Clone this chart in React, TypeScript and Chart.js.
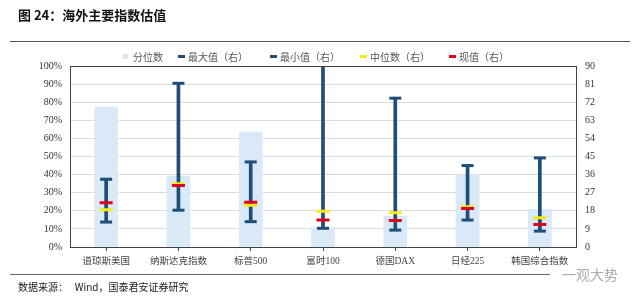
import React, { useEffect, useRef } from "react";
import { Chart, registerables } from "chart.js";
Chart.register(...registerables);

const categories = ["道琼斯美国", "纳斯达克指数", "标普500", "富时100", "德国DAX", "日经225", "韩国综合指数"];
const percentile = [77.3, 39.2, 63.5, 10.7, 17.1, 39.8, 20.8];
const maxVals = [33.7, 81.4, 42.3, 95, 74.0, 40.5, 44.3];
const minVals = [12.4, 18.3, 12.6, 9.3, 8.4, 13.4, 7.9];
const medianVals = [18.5, 31.4, 20.8, 17.8, 17.0, 20.0, 14.6];
const currentVals = [22.0, 30.6, 22.3, 13.4, 13.2, 19.2, 11.2];

const BLUE_LIGHT = "#d9e9f8";
const BLUE_DARK = "#1f4e79";
const YELLOW = "#f2ea1c";
const RED = "#e2001a";
const FONT = "'Liberation Serif', 'Noto Sans CJK SC', serif";

const borderPlugin = {
  id: "plotBorder",
  afterDraw(chart: any) {
    const { ctx, chartArea } = chart;
    ctx.save();
    ctx.strokeStyle = "#404040";
    ctx.lineWidth = 1;
    ctx.strokeRect(Math.round(chartArea.left) + 0.5, Math.round(chartArea.top) + 0.5,
      Math.round(chartArea.right - chartArea.left), Math.round(chartArea.bottom - chartArea.top));
    ctx.restore();
  },
};

function ChartView() {
  const ref = useRef<HTMLCanvasElement | null>(null);
  useEffect(() => {
    if (!ref.current) return;
    const pointDs = (label: string, data: number[], color: string, r: number) => ({
      type: "line" as const,
      label,
      data,
      yAxisID: "y1",
      showLine: false,
      pointStyle: "line",
      pointRadius: r,
      pointBorderWidth: 3,
      pointBorderColor: color,
      pointBackgroundColor: color,
      borderColor: color,
      order: 0,
    });
    const chart = new Chart(ref.current, {
      type: "bar",
      data: {
        labels: categories,
        datasets: [
          pointDs("现值（右）", currentVals, RED, 6.5),
          pointDs("中位数（右）", medianVals, YELLOW, 6.5),
          pointDs("最大值（右）", maxVals, BLUE_DARK, 6),
          pointDs("最小值（右）", minVals, BLUE_DARK, 6),
          {
            type: "bar",
            label: "range",
            data: minVals.map((m, i) => [m, maxVals[i]]),
            yAxisID: "y1",
            backgroundColor: BLUE_DARK,
            barThickness: 3,
            grouped: false,
            order: 1,
          } as any,
          {
            type: "bar",
            label: "分位数",
            data: percentile,
            yAxisID: "y",
            backgroundColor: BLUE_LIGHT,
            barThickness: 23,
            grouped: false,
            order: 2,
          },
        ],
      },
      options: {
        responsive: false,
        animation: false,
        layout: { padding: { top: 66, left: 0, right: 0, bottom: 0 } },
        plugins: { legend: { display: false }, tooltip: { enabled: false } },
        scales: {
          x: {
            offset: true,
            grid: { display: true, drawOnChartArea: false, offset: false, tickLength: 4, color: "#404040" },
            border: { color: "#404040" },
            ticks: { font: { family: FONT, size: 9.5 }, color: "#444", padding: 5, maxRotation: 0, autoSkip: false },
            afterFit(s: any) { s.height = 58; },
          },
          y: {
            position: "left",
            min: 0,
            max: 100,
            ticks: { stepSize: 10, callback: (v: any) => v + "%", font: { family: FONT, size: 10 }, color: "#333", padding: 8 },
            grid: { color: "#dcdcdc", drawTicks: false },
            border: { color: "#404040" },
            afterFit(s: any) { s.width = 70; },
          },
          y1: {
            position: "right",
            min: 0,
            max: 90,
            ticks: { stepSize: 9, font: { family: FONT, size: 10 }, color: "#333", padding: 9 },
            grid: { drawOnChartArea: false, drawTicks: false },
            border: { color: "#404040" },
            afterFit(s: any) { s.width = 64; },
          },
        },
      },
      plugins: [borderPlugin],
    } as any);
    return () => chart.destroy();
  }, []);
  return <canvas ref={ref} width={640} height={305} style={{ position: "absolute", left: 0, top: 0 }} />;
}

const legendItems = [
  { label: "分位数", color: BLUE_LIGHT, square: true, x: 123 },
  { label: "最大值（右）", color: BLUE_DARK, square: false, x: 178 },
  { label: "最小值（右）", color: BLUE_DARK, square: false, x: 270 },
  { label: "中位数（右）", color: YELLOW, square: false, x: 360 },
  { label: "现值（右）", color: RED, square: false, x: 449 },
];

export default function App() {
  return (
    <div style={{ position: "absolute", left: 0, top: 0, width: 640, height: 305, background: "#fff", overflow: "hidden" }}>
      <ChartView />
      <div style={{ position: "absolute", left: 18, top: 5, fontFamily: "'Noto Sans CJK SC', sans-serif", fontWeight: 700, fontSize: 13, color: "#111", whiteSpace: "nowrap" }}>
        图 24：海外主要指数估值
      </div>
      <div style={{ position: "absolute", left: 10, top: 41, width: 620, height: 1, background: "#555" }} />
      {legendItems.map((it) => (
        <div key={it.label} style={{ position: "absolute", left: it.x, top: 49, height: 14, display: "flex", alignItems: "center", fontFamily: FONT, fontSize: 10, color: "#555", whiteSpace: "nowrap" }}>
          <span style={{ display: "inline-block", width: it.square ? 5 : 7, height: it.square ? 5 : 3, background: it.color, marginRight: it.square ? 5 : 3 }} />
          {it.label}
        </div>
      ))}
      <div style={{ position: "absolute", left: 10, top: 274, width: 540, height: 1, background: "#666" }} />
      <div style={{ position: "absolute", left: 18, top: 279, fontFamily: "'Noto Sans CJK SC', sans-serif", fontSize: 10, color: "#222", whiteSpace: "nowrap" }}>
        数据来源：&nbsp;&nbsp;&nbsp;Wind，国泰君安证券研究
      </div>
      <div style={{ position: "absolute", left: 562, top: 264, fontFamily: "'Noto Sans CJK SC', sans-serif", fontSize: 14, color: "#aaa", whiteSpace: "nowrap" }}>
        一观大势
      </div>
    </div>
  );
}
